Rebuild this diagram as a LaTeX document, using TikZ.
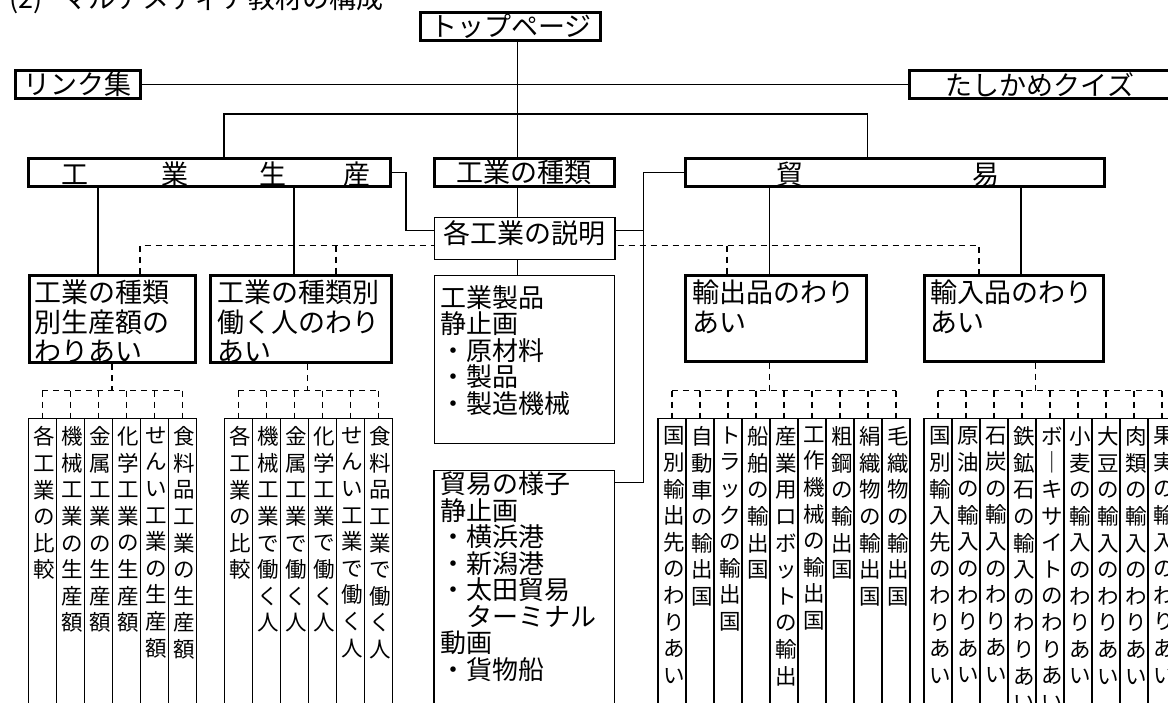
\documentclass[tikz,border=0pt]{standalone}
\usepackage{fontspec}
\setmainfont{Noto Sans CJK JP}
\usetikzlibrary{calc}
\newcommand\fbig{\fontsize{27pt}{29.3pt}\selectfont}
\newcommand\fmid{\fontsize{26pt}{26.5pt}\selectfont}
\newcommand\fcol{\fontsize{21.5pt}{26.6pt}\selectfont}
\let\vtend\relax
\def\vtA#1{\ifx#1\vtend\else\hbox to 0pt{\hss#1\hss}\expandafter\vtA\fi}
\newcommand\vt[1]{\vbox{\baselineskip=26.6pt\expandafter\vtA#1\vtend}}
\tikzset{
  tbox/.style={draw, line width=3pt, fill=white, inner sep=0pt, font=\fbig},
  nbox/.style={draw, line width=1.3pt, fill=white, inner sep=0pt, font=\fbig},
  txt/.style={inner sep=0pt, align=left},
  colbox/.style={draw, line width=1.3pt, minimum width=28pt, minimum height=320pt, inner sep=0pt, anchor=north west},
  coltext/.style={inner sep=0pt, anchor=north, font=\fcol},
  conn/.style={line width=1.2pt},
  dsh/.style={line width=1.2pt, dash pattern=on 6pt off 5pt},
}
\newcommand\colgroup[3]{%
  \foreach \txt [count=\i] in {#3}{%
    \node[colbox] (#1\i) at ({#2+28*(\i-1)},417.7) {};
    \node[coltext] (#1t\i) at ({#2+28*(\i-1)+17},426.5) {\vt{\txt}};
  }%
}
\begin{document}
\begin{tikzpicture}[x=1pt,y=-1pt]
\useasboundingbox (0,0) rectangle (1168,702);
\clip (0,0) rectangle (1168,702);
\fill[white] (0,0) rectangle (1168,702);

% title
\node[txt, font=\fbig, anchor=base west] (title) at (9,8.5) {(2)\hspace{19pt}マルチメディア教材の構成};

% top level boxes
\node[tbox, minimum width=180pt, minimum height=28pt] (top) at (510.8,26.5) {トップページ};
\node[tbox, minimum width=125pt, minimum height=28pt] (link) at (77.5,84.5) {リンク集};
\node[tbox, minimum width=261pt, minimum height=28pt] (quiz) at (1040,84.5) {たしかめクイズ};
\node[tbox, minimum width=362.5pt, minimum height=27.4pt] (kogyo) at (209.5,172.5) {};
\node[txt, font=\fbig, anchor=west] (kogyoT) at (61.5,174) {工\hspace{73pt}業\hspace{70.5pt}生\hspace{57.5pt}産};
\node[tbox, minimum width=180.3pt, minimum height=27.4pt] (shurui) at (524.3,172.5) {工業の種類};
\node[tbox, minimum width=418.4pt, minimum height=27.4pt] (boeki) at (895,172.5) {};
\node[txt, font=\fbig, anchor=west] (boekiT) at (776.5,174) {貿\hspace{168.5pt}易};

% second level boxes
\node[tbox, minimum width=166pt, minimum height=87pt] (boxA) at (112.2,319) {};
\node[txt, font=\fbig, anchor=north west] (boxAT) at (34.5,280) {工業の種類\\別生産額の\\わりあい};
\node[tbox, minimum width=180.7pt, minimum height=87pt] (boxB) at (300.8,319) {};
\node[txt, font=\fbig, anchor=north west] (boxBT) at (216.8,280) {工業の種類別\\働く人のわり\\あい};
\node[tbox, minimum width=180.4pt, minimum height=85.4pt] (export) at (776,318.5) {};
\node[txt, font=\fbig, anchor=north west] (exportT) at (691.8,280) {輸出品のわり\\あい};
\node[tbox, minimum width=179.3pt, minimum height=85.4pt] (import) at (1013.8,318.5) {};
\node[txt, font=\fbig, anchor=north west] (importT) at (930.2,280) {輸入品のわり\\あい};
\node[nbox, minimum width=180pt, minimum height=168pt] (seihin) at (524.5,359.5) {};
\node[txt, font=\fmid, anchor=north west] (seihinT) at (440.2,285) {工業製品\\静止画\\・原材料\\・製品\\・製造機械};
\node[nbox, minimum width=180.4pt, minimum height=300pt, anchor=north] (yosu) at (524.2,470) {};
\node[txt, font=\fmid, anchor=north west] (yosuT) at (440.2,471.5) {貿易の様子\\静止画\\・横浜港\\・新潟港\\・太田貿易\\\hspace*{26pt}ターミナル\\動画\\・貨物船};

% dashed links from the explanation box
\coordinate (d1) at (140,245.7);
\coordinate (d2) at (336,245.7);
\coordinate (d3) at (727,245.7);
\coordinate (d4) at (979,245.7);
\draw[dsh] (boxA.north -| d1) -- (d1) -- (d4) -- (import.north -| d4);
\draw[dsh] (d2) -- (boxB.north -| d2);
\draw[dsh] (d3) -- (export.north -| d3);

\node[nbox, minimum width=180.4pt, minimum height=42pt] (setsu) at (524.8,238.3) {};
\node[inner sep=0pt, font=\fbig] (setsuT) at (524.8,233.3) {各工業の説明};

% solid connectors
\coordinate (spX) at (517.7,0);
\draw[conn] (top.south -| spX) -- (shurui.north -| spX);
\draw[conn] (shurui.south -| spX) -- (setsu.north -| spX);
\draw[conn] (setsu.south -| spX) -- (seihin.north -| spX);
\draw[conn] (link.east) -- (quiz.west);
\coordinate (h1) at (224,114);
\coordinate (h2) at (867.6,114);
\draw[conn] (kogyo.north -| h1) -- (h1) -- (h2) -- (boeki.north -| h2);
\coordinate (kj) at (406,230.7);
\draw[conn] (kogyo.east) -| (kj) -- (kj -| setsu.west);
\coordinate (bj) at (643.3,230.7);
\coordinate (yj) at (643.3,482.3);
\draw[conn] (setsu.east |- bj) -- (bj);
\draw[conn] (boeki.west) -| (yj) -- (yj -| yosu.east);
\coordinate (v1) at (98,0);
\coordinate (v2) at (294,0);
\coordinate (v3) at (769.4,0);
\coordinate (v4) at (1021,0);
\draw[conn] (kogyo.south -| v1) -- (boxA.north -| v1);
\draw[conn] (kogyo.south -| v2) -- (boxB.north -| v2);
\draw[conn] (boeki.south -| v3) -- (export.north -| v3);
\draw[conn] (boeki.south -| v4) -- (import.north -| v4);

% columns
\colgroup{cA}{27.7}{各工業の比較,機械工業の生産額,金属工業の生産額,化学工業の生産額,せんい工業の生産額,食料品工業の生産額}
\colgroup{cB}{223.7}{各工業の比較,機械工業で働く人,金属工業で働く人,化学工業で働く人,せんい工業で働く人,食料品工業で働く人}
\colgroup{cE}{657.3}{国別輸出先のわりあい,自動車の輸出国,トラックの輸出国,船舶の輸出国,産業用ロボットの輸出,工作機械の輸出国,粗鋼の輸出国,絹織物の輸出国,毛織物の輸出国}
\colgroup{cI}{923.3}{国別輸入先のわりあい,原油の輸入のわりあい,石炭の輸入のわりあい,鉄鉱石の輸入のわりあい,ボ｜キサイトのわりあい,小麦の輸入のわりあい,大豆の輸入のわりあい,肉類の輸入のわりあい,果実の輸入のわりあい}

% dashed group connectors
\coordinate (gA) at (112,390.7);
\coordinate (gB) at (307.3,390.7);
\coordinate (gE) at (769.3,390.7);
\coordinate (gI) at (1035.3,390.7);
\draw[dsh] (boxA.south -| gA) -- (gA);
\draw[dsh] (boxB.south -| gB) -- (gB);
\draw[dsh] (export.south -| gE) -- (gE);
\draw[dsh] (import.south -| gI) -- (gI);
\draw[dsh] (cA1.north |- gA) -- (cA6.north |- gA);
\draw[dsh] (cB1.north |- gB) -- (cB6.north |- gB);
\draw[dsh] (cE1.north |- gE) -- (cE9.north |- gE);
\draw[dsh] (cI1.north |- gI) -- (cI9.north |- gI);
\foreach \i in {1,...,6} {
  \draw[dsh] (cA\i.north |- gA) -- (cA\i.north);
  \draw[dsh] (cB\i.north |- gB) -- (cB\i.north);
}
\foreach \i in {1,...,9} {
  \draw[dsh] (cE\i.north |- gE) -- (cE\i.north);
  \draw[dsh] (cI\i.north |- gI) -- (cI\i.north);
}
\end{tikzpicture}
\end{document}
